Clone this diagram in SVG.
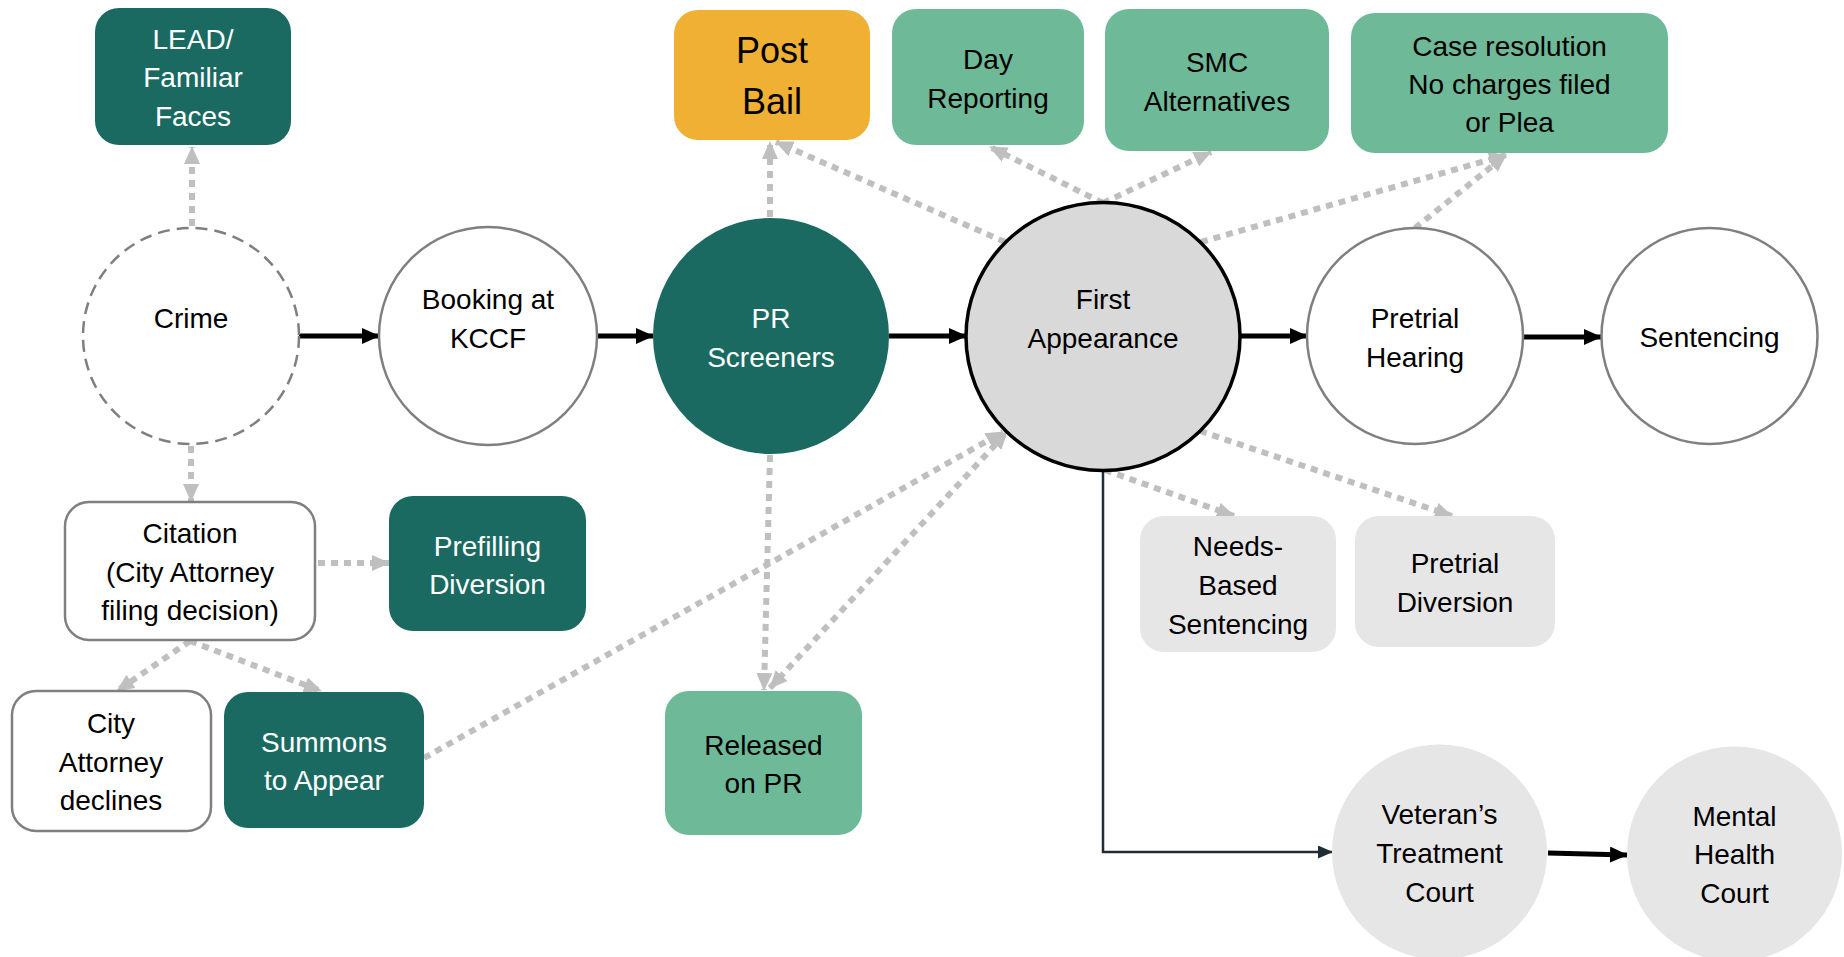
<svg xmlns="http://www.w3.org/2000/svg" width="1844" height="957" viewBox="0 0 1844 957">
<style>
.teal{fill:#1B6A62}
.green{fill:#6EB998}
.orange{fill:#EFB034}
.lgray{fill:#E7E6E6}
.outline{fill:#fff;stroke:#7F7F7F;stroke-width:2.5}
.t{font-family:"Liberation Sans",Arial,sans-serif;font-size:28px;text-anchor:middle;fill:#000}
.w{fill:#fff}
.big{font-size:36px}
.dot{stroke:#BFBFBF;stroke-width:6;stroke-dasharray:7 6;fill:none;marker-end:url(#ag)}
.solid{stroke:#000;stroke-width:5;fill:none;marker-end:url(#ab)}
.thin{stroke:#1E2D36;stroke-width:2.5;fill:none;marker-end:url(#at)}
</style>
<defs>
<marker id="ag" markerUnits="userSpaceOnUse" markerWidth="18" markerHeight="16" refX="17" refY="8" orient="auto"><path d="M0,0 L18,8 L0,16 z" fill="#BFBFBF"/></marker>
<marker id="ags" markerUnits="userSpaceOnUse" markerWidth="18" markerHeight="16" refX="1" refY="8" orient="auto"><path d="M18,0 L0,8 L18,16 z" fill="#BFBFBF"/></marker>
<marker id="ab" markerUnits="userSpaceOnUse" markerWidth="18" markerHeight="16" refX="17" refY="8" orient="auto"><path d="M0,0 L18,8 L0,16 z" fill="#000"/></marker>
<marker id="at" markerUnits="userSpaceOnUse" markerWidth="15" markerHeight="13" refX="14" refY="6.5" orient="auto"><path d="M0,0 L15,6.5 L0,13 z" fill="#1E2D36"/></marker>
</defs>
<rect width="1844" height="957" fill="#fff"/>

<g id="connectors">
<line class="dot" x1="192" y1="226" x2="192" y2="147"/>
<line class="dot" x1="191" y1="446" x2="191" y2="501"/>
<line class="dot" x1="292" y1="563" x2="389" y2="563"/>
<line class="dot" x1="190" y1="641" x2="117" y2="691"/>
<line class="dot" x1="190" y1="641" x2="321" y2="691"/>
<line class="dot" x1="424" y1="758" x2="1003" y2="432"/>
<line class="dot" x1="770" y1="455" x2="764" y2="690"/>
<line class="dot" x1="770" y1="688" x2="1007" y2="432" marker-start="url(#ags)"/>
<line class="dot" x1="770" y1="217" x2="770" y2="142"/>
<line class="dot" x1="1005" y1="242" x2="776" y2="142"/>
<line class="dot" x1="1103" y1="203" x2="990" y2="147"/>
<line class="dot" x1="1103" y1="203" x2="1211" y2="152"/>
<line class="dot" x1="1201" y1="242" x2="1506" y2="155"/>
<line class="dot" x1="1415" y1="228" x2="1506" y2="155"/>
<line class="dot" x1="1105" y1="470" x2="1234" y2="516"/>
<line class="dot" x1="1200" y1="431" x2="1452" y2="516"/>
<line class="solid" x1="299" y1="336" x2="379" y2="336"/>
<line class="solid" x1="597" y1="336" x2="653" y2="336"/>
<line class="solid" x1="889" y1="336" x2="966" y2="336"/>
<line class="solid" x1="1240" y1="336" x2="1307" y2="336"/>
<line class="solid" x1="1523" y1="337" x2="1601" y2="337"/>
<polyline class="thin" points="1103,470 1103,852 1332,852"/>
<line class="solid" x1="1548" y1="853" x2="1627" y2="855"/>
</g>

<g id="lead"><rect class="teal" x="95" y="8" width="196" height="137" rx="24"/>
<text class="t w" x="193" y="49">LEAD/</text><text class="t w" x="193" y="87">Familiar</text><text class="t w" x="193" y="126">Faces</text></g>

<g id="crime"><circle cx="191" cy="336" r="108" fill="#fff" stroke="#7F7F7F" stroke-width="2.5" stroke-dasharray="12 7"/>
<text class="t" x="191" y="328">Crime</text></g>

<g id="booking"><circle class="outline" cx="488" cy="336" r="109"/>
<text class="t" x="488" y="309">Booking at</text><text class="t" x="488" y="348">KCCF</text></g>

<g id="pr"><circle class="teal" cx="771" cy="336" r="118"/>
<text class="t w" x="771" y="328">PR</text><text class="t w" x="771" y="367">Screeners</text></g>

<g id="first"><ellipse cx="1103" cy="336.5" rx="137" ry="134" fill="#D9D9D9" stroke="#000" stroke-width="3.5"/>
<text class="t" x="1103" y="309">First</text><text class="t" x="1103" y="348">Appearance</text></g>

<g id="pretrial"><circle class="outline" cx="1415" cy="336" r="108"/>
<text class="t" x="1415" y="328">Pretrial</text><text class="t" x="1415" y="367">Hearing</text></g>

<g id="sentencing"><circle class="outline" cx="1709.5" cy="336" r="108"/>
<text class="t" x="1709.5" y="347">Sentencing</text></g>

<g id="postbail"><rect class="orange" x="674" y="10" width="196" height="130" rx="24"/>
<text class="t big" x="772" y="63">Post</text><text class="t big" x="772" y="114">Bail</text></g>

<g id="day"><rect class="green" x="892" y="9" width="192" height="136" rx="24"/>
<text class="t" x="988" y="69">Day</text><text class="t" x="988" y="108">Reporting</text></g>

<g id="smc"><rect class="green" x="1105" y="9" width="224" height="142" rx="24"/>
<text class="t" x="1217" y="72">SMC</text><text class="t" x="1217" y="111">Alternatives</text></g>

<g id="case"><rect class="green" x="1351" y="13" width="317" height="140" rx="24"/>
<text class="t" x="1509.5" y="56">Case resolution</text><text class="t" x="1509.5" y="94">No charges filed</text><text class="t" x="1509.5" y="132">or Plea</text></g>

<g id="citation"><rect class="outline" x="65" y="502" width="250" height="138" rx="24"/>
<text class="t" x="190" y="543">Citation</text><text class="t" x="190" y="582">(City Attorney</text><text class="t" x="190" y="620">filing decision)</text></g>

<g id="prefilling"><rect class="teal" x="389" y="496" width="197" height="135" rx="24"/>
<text class="t w" x="487.5" y="556">Prefilling</text><text class="t w" x="487.5" y="594">Diversion</text></g>

<g id="declines"><rect class="outline" x="12" y="691" width="199" height="140" rx="24"/>
<text class="t" x="111" y="733">City</text><text class="t" x="111" y="772">Attorney</text><text class="t" x="111" y="810">declines</text></g>

<g id="summons"><rect class="teal" x="224" y="692" width="200" height="136" rx="24"/>
<text class="t w" x="324" y="752">Summons</text><text class="t w" x="324" y="790">to Appear</text></g>

<g id="released"><rect class="green" x="665" y="691" width="197" height="144" rx="24"/>
<text class="t" x="763.5" y="755">Released</text><text class="t" x="763.5" y="793">on PR</text></g>

<g id="needs"><rect class="lgray" x="1140" y="516" width="196" height="136" rx="24"/>
<text class="t" x="1238" y="556">Needs-</text><text class="t" x="1238" y="595">Based</text><text class="t" x="1238" y="634">Sentencing</text></g>

<g id="pdiversion"><rect class="lgray" x="1355" y="516" width="200" height="131" rx="24"/>
<text class="t" x="1455" y="573">Pretrial</text><text class="t" x="1455" y="612">Diversion</text></g>

<g id="veteran"><circle class="lgray" cx="1439.5" cy="852" r="107.5"/>
<text class="t" x="1439.5" y="824">Veteran’s</text><text class="t" x="1439.5" y="863">Treatment</text><text class="t" x="1439.5" y="902">Court</text></g>

<g id="mental"><circle class="lgray" cx="1734.5" cy="854" r="107.5"/>
<text class="t" x="1734.5" y="826">Mental</text><text class="t" x="1734.5" y="864">Health</text><text class="t" x="1734.5" y="903">Court</text></g>
</svg>
